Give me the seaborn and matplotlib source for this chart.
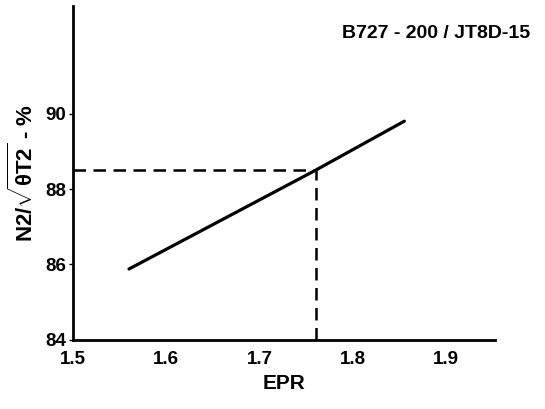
import matplotlib
matplotlib.use("Agg")
import matplotlib.pyplot as plt
import seaborn as sns
import pandas as pd

# Engine trim line: corrected N2 speed vs. engine pressure ratio
epr = [1.56, 1.76, 1.855]
n2_pct = [85.88, 88.5, 89.8]
ref_epr = 1.76
ref_n2 = 88.5
x_ticks = [1.5, 1.6, 1.7, 1.8, 1.9]
y_ticks = [84, 86, 88, 90]

sns.set_theme(style="white")
plt.rcParams["font.family"] = ["Liberation Sans", "DejaVu Sans"]
plt.rcParams["font.weight"] = "bold"
plt.rcParams["text.color"] = "black"
plt.rcParams["axes.labelcolor"] = "black"
plt.rcParams["xtick.color"] = "black"
plt.rcParams["ytick.color"] = "black"
plt.rcParams["mathtext.fontset"] = "custom"
plt.rcParams["mathtext.rm"] = "Liberation Sans:bold"
plt.rcParams["mathtext.bf"] = "Liberation Sans:bold"
plt.rcParams["mathtext.it"] = "Liberation Sans:bold"

df = pd.DataFrame({"EPR": epr, "N2": n2_pct})

fig = plt.figure(figsize=(5.45, 4.09), dpi=100)
ax = fig.add_axes([0.134, 0.169, 0.774, 0.816])

sns.lineplot(data=df, x="EPR", y="N2", ax=ax, color="black", linewidth=2.3)

# Reference reading lines
ax.plot([1.5, ref_epr], [ref_n2, ref_n2], color="black", linewidth=1.8,
        linestyle=(0, (5, 3)))
ax.plot([ref_epr, ref_epr], [84, ref_n2], color="black", linewidth=1.8,
        linestyle=(0, (5, 3)))

ax.set_xlim(1.5, 1.952)
ax.set_ylim(84, 92.85)
ax.set_xticks(x_ticks)
ax.set_yticks(y_ticks)
ax.set_xticklabels([f"{v:.1f}" for v in x_ticks], fontsize=13.5, fontweight="bold")
ax.set_yticklabels([str(v) for v in y_ticks], fontsize=13.5, fontweight="bold")
ax.tick_params(axis="y", length=3, width=1, pad=2, left=True)
ax.tick_params(axis="x", length=0, pad=8)

for side in ["top", "right"]:
    ax.spines[side].set_visible(False)
for side in ["left", "bottom"]:
    ax.spines[side].set_color("black")
    ax.spines[side].set_linewidth(2)

ax.set_xlabel("EPR", fontsize=15, fontweight="bold", labelpad=4)
ax.set_ylabel(r"N2/$\sqrt{\theta \mathrm{T2}}$ - %", fontsize=16,
              fontweight="bold", labelpad=5)

fig.text(0.973, 0.918, "B727 - 200 / JT8D-15", ha="right", va="center",
         fontsize=14, fontweight="bold")

fig.savefig("out.png", dpi=100, facecolor="white")
